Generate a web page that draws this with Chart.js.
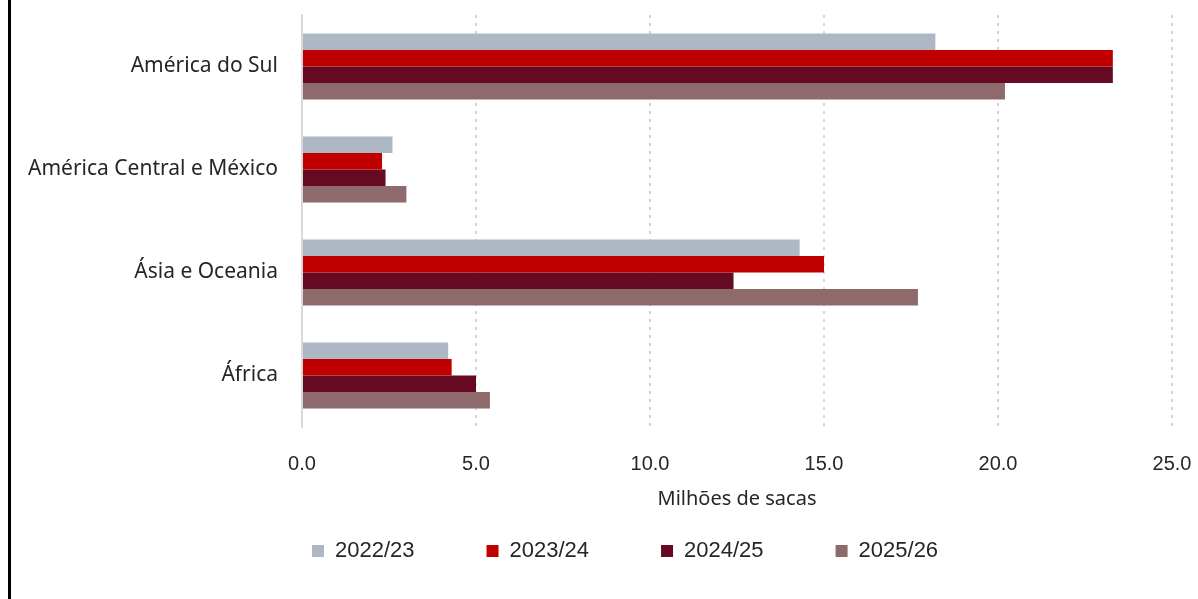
<!DOCTYPE html>
<html lang="pt-BR">
<head>
<meta charset="utf-8">
<title>Produção por região</title>
<script src="https://cdn.jsdelivr.net/npm/chart.js@4.4.1/dist/chart.umd.min.js"></script>
<style>
    html, body { margin: 0; padding: 0; background: #fff; overflow: hidden; }
    #wrap { position: relative; width: 1198px; height: 599px; }
    #edge { position: absolute; left: 8px; top: 0; width: 3px; height: 599px; background: #000; }
    #myChart { position: absolute; left: 0; top: 0; }
</style>
</head>
<body>
<div id="wrap">
    <canvas id="myChart" width="1198" height="599"></canvas>
    <div id="edge"></div>
</div>
<script>
// dados (milhões de sacas)
const regioes = ['América do Sul', 'América Central e México', 'Ásia e Oceania', 'África'];
const safras = ['2022/23', '2023/24', '2024/25', '2025/26'];
const v2022 = [18.2, 2.6, 14.3, 4.2];
const v2023 = [23.3, 2.3, 15.0, 4.3];
const v2024 = [23.3, 2.4, 12.4, 5.0];
const v2025 = [20.2, 3.0, 17.7, 5.4];
const xTicks = [0, 5, 10, 15, 20, 25];

const cores = ['#adb8c4', '#c00000', '#660a23', '#8e6a6d'];
const series = [v2022, v2023, v2024, v2025];

const datasets = series.map((data, i) => ({
    label: safras[i],
    data,
    backgroundColor: cores[i],
    borderWidth: 0,
    barPercentage: 1,
    categoryPercentage: 0.64
}));

// reposiciona a legenda (o espaçamento largo entre itens não cabe no layout padrão)
const legendNudge = {
    id: 'legendNudge',
    afterLayout(chart) {
        const lg = chart.legend;
        if (!lg || !lg.lineWidths) return;
        const pad = lg.options.labels.padding;
        const startX = (lg.left + pad + lg.right - lg.lineWidths[0]) / 2;
        const dx = 312 - startX;
        lg.left += dx;
        lg.right += dx;
        // o legend recorta o desenho à sua caixa: aumentar a caixa
        lg.top = 551 - pad - 11;
        lg.bottom = 599;
        lg.height = lg.bottom - lg.top;
    }
};

new Chart(document.getElementById('myChart'), {
    type: 'bar',
    data: { labels: regioes, datasets },
    options: {
        indexAxis: 'y',
        responsive: false,
        animation: false,
        layout: { padding: { left: 0, top: 15, right: 0, bottom: 0 } },
        plugins: {
            tooltip: { enabled: false },
            legend: {
                position: 'bottom',
                maxHeight: 60,
                labels: {
                    boxWidth: 12,
                    boxHeight: 12,
                    padding: 72,
                    color: '#262626',
                    font: { family: 'Liberation Sans', size: 22 }
                }
            }
        },
        scales: {
            x: {
                min: 0,
                max: 25,
                afterBuildTicks: scale => { scale.ticks = xTicks.map(v => ({ value: v })); },
                afterFit: scale => {
                    scale.height = 112;
                    scale.paddingRight = 26;
                    scale.paddingLeft = 0;
                },
                ticks: {
                    padding: 25,
                    color: '#262626',
                    font: { family: 'Liberation Sans', size: 20 },
                    callback: v => Number(v).toFixed(1)
                },
                grid: {
                    drawTicks: false,
                    color: ctx => (ctx.tick && ctx.tick.value === 0) ? 'rgba(0,0,0,0)' : '#d4d4d4',
                    lineWidth: 2
                },
                border: { display: false, dash: [3, 5] },
                title: {
                    display: true,
                    text: 'Milhões de sacas',
                    color: '#262626',
                    font: { family: 'Noto Sans', size: 20 },
                    padding: { top: 0, bottom: 28 }
                }
            },
            y: {
                afterFit: scale => {
                    scale.width = 302;
                    scale.paddingTop = 0;
                    scale.paddingBottom = 0;
                },
                ticks: {
                    padding: 24,
                    color: '#262626',
                    font: { family: 'Noto Sans', size: 21 }
                },
                grid: { display: false, drawTicks: false },
                border: { display: true, color: '#d9d9d9', width: 2 }
            }
        }
    },
    plugins: [legendNudge]
});
</script>
</body>
</html>
